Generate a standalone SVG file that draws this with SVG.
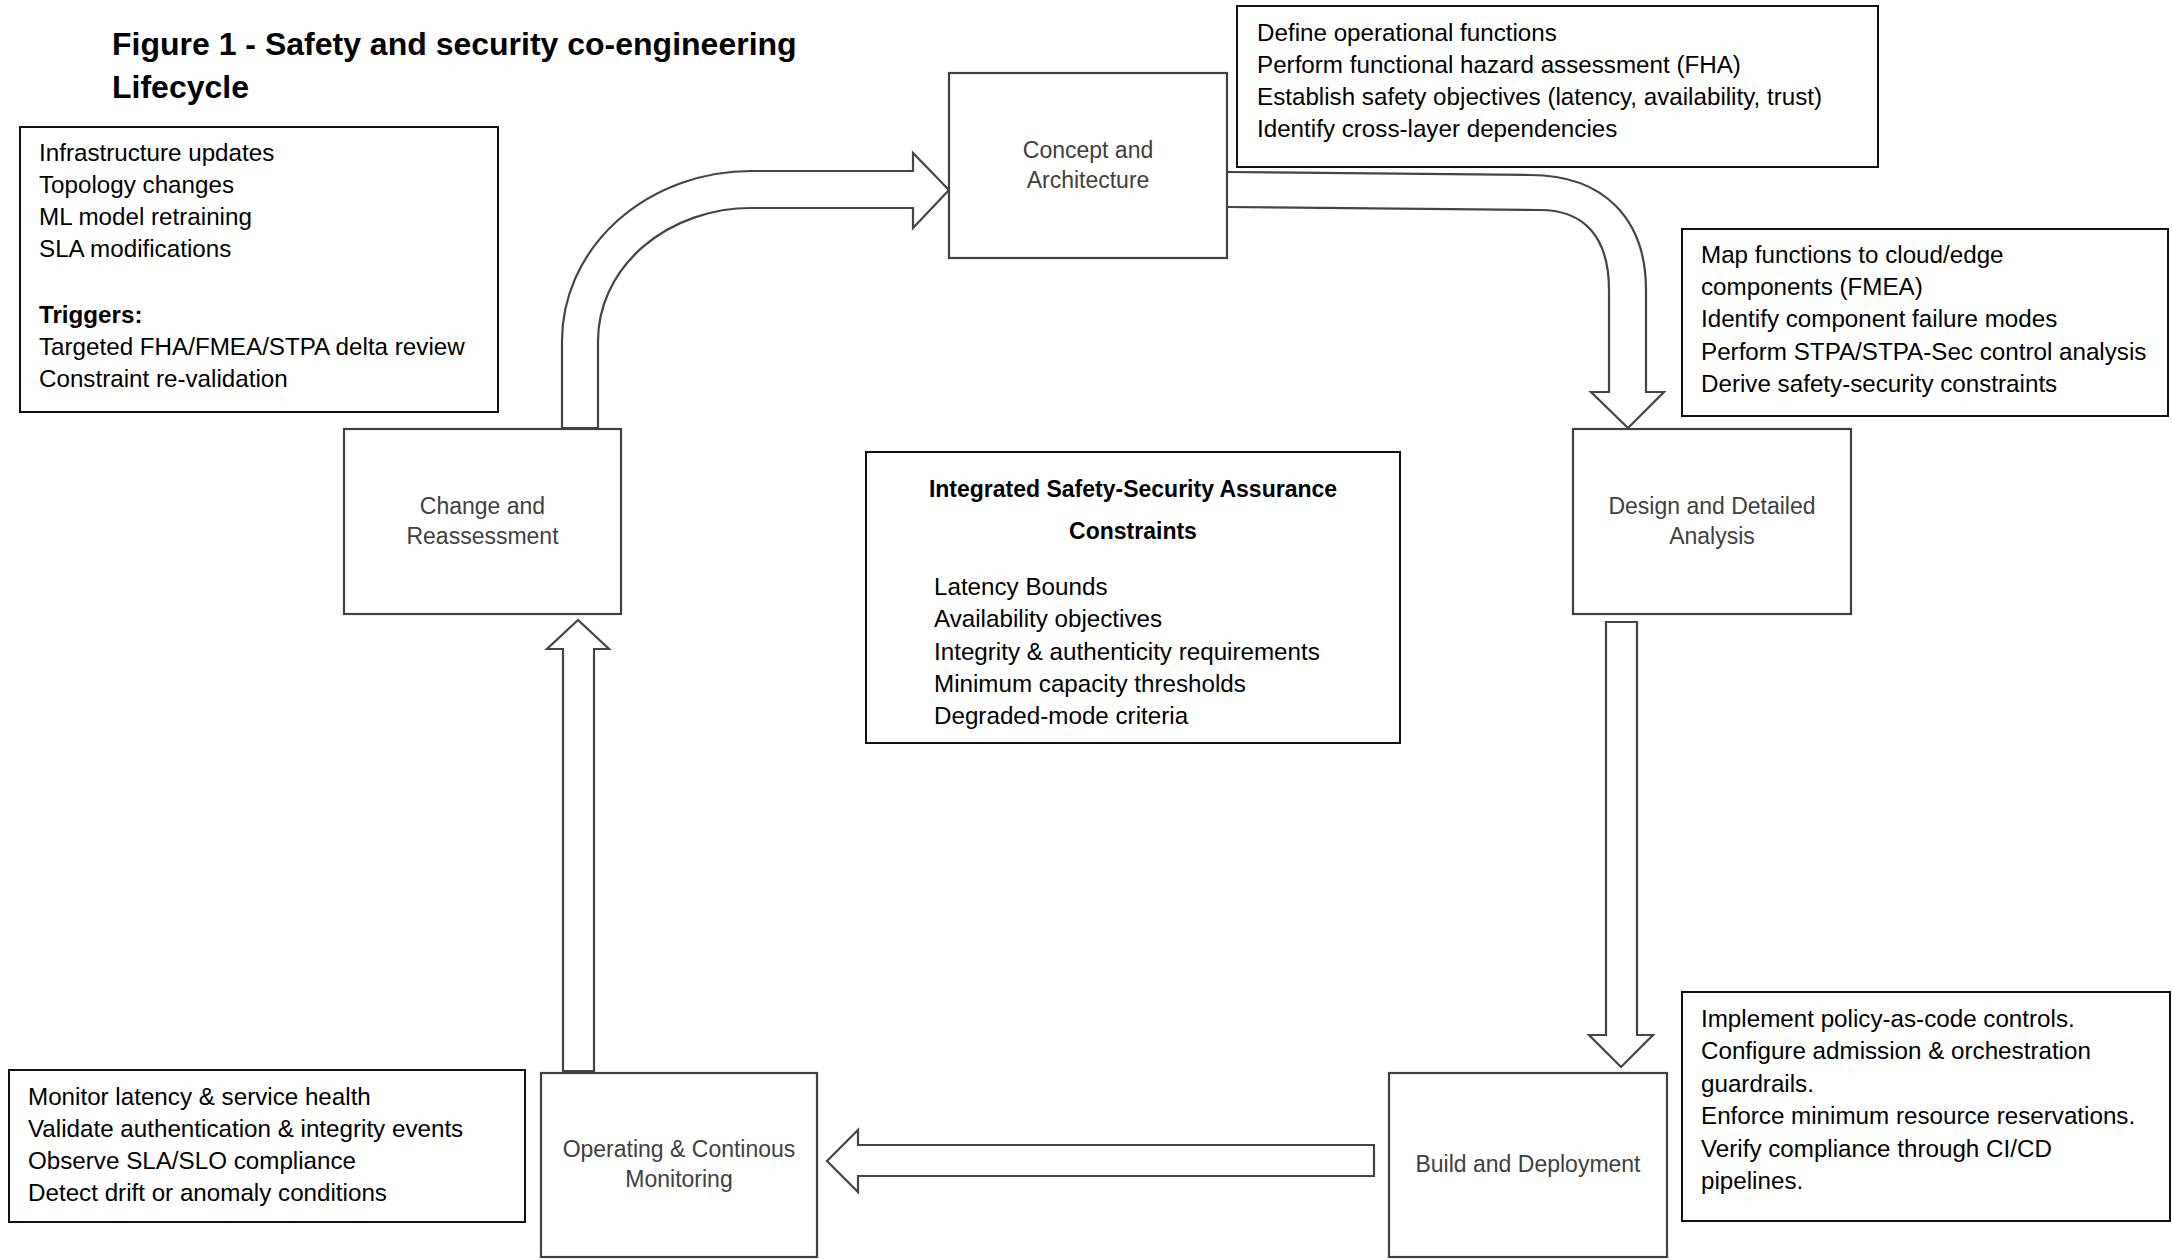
<svg xmlns="http://www.w3.org/2000/svg" width="2172" height="1259" viewBox="0 0 2172 1259">
<style>
.bg{fill:#fff}
.node rect{fill:#fff;stroke:#404040;stroke-width:2.2}
.note rect{fill:#fff;stroke:#111;stroke-width:2}
.lbl{font-family:"Liberation Sans",Arial,sans-serif;font-size:23px;fill:#404040;text-anchor:middle}
.txt{font-family:"Liberation Sans",Arial,sans-serif;font-size:24.2px;fill:#000}
.b{font-weight:bold}
.title{font-family:"Liberation Sans",Arial,sans-serif;font-size:32px;font-weight:bold;fill:#000}
.arrow{fill:#fff;stroke:#444;stroke-width:2.2;stroke-linejoin:miter}
</style>
<rect class="bg" x="0" y="0" width="2172" height="1259"/>

<g id="title">
<text class="title" x="112" y="55">Figure 1 - Safety and security co-engineering</text>
<text class="title" x="112" y="98">Lifecycle</text>
</g>

<g id="connectors">
<path class="arrow" d="M562,428 L562,341 A189,170 0 0 1 751,171 L913,171 L913,153 L949,190 L913,228 L913,208 L751,208 A153,133 0 0 0 598,341 L598,428 Z"/>
<path class="arrow" d="M1228,172 L1530,175 C1605,175 1646,220 1646,290 L1646,392 L1664,392 L1628,428 L1591,392 L1609,392 L1609,290 C1609,238 1585,210 1540,210 L1228,207"/>
<path class="arrow" d="M1606,622 L1637,622 L1637,1035 L1653,1035 L1621,1067 L1589,1035 L1606,1035 Z"/>
<path class="arrow" d="M1374,1145 L858,1145 L858,1130 L827,1161 L858,1192 L858,1176 L1374,1176 Z"/>
<path class="arrow" d="M563,1071 L563,649 L547,649 L578,620 L609,649 L594,649 L594,1071 Z"/>
</g>

<g id="node-concept" class="node">
<rect x="949" y="73" width="278" height="185"/>
<text class="lbl" x="1088" y="158">Concept and</text>
<text class="lbl" x="1088" y="188">Architecture</text>
</g>

<g id="node-design" class="node">
<rect x="1573" y="429" width="278" height="185"/>
<text class="lbl" x="1712" y="514">Design and Detailed</text>
<text class="lbl" x="1712" y="544">Analysis</text>
</g>

<g id="node-build" class="node">
<rect x="1389" y="1073" width="278" height="184"/>
<text class="lbl" x="1528" y="1172">Build and Deployment</text>
</g>

<g id="node-operating" class="node">
<rect x="541" y="1073" width="276" height="184"/>
<text class="lbl" x="679" y="1157">Operating &amp; Continous</text>
<text class="lbl" x="679" y="1187">Monitoring</text>
</g>

<g id="node-change" class="node">
<rect x="344" y="429" width="277" height="185"/>
<text class="lbl" x="482.5" y="514">Change and</text>
<text class="lbl" x="482.5" y="544">Reassessment</text>
</g>

<g id="note-change" class="note">
<rect x="20" y="127" width="478" height="285"/>
<text class="txt" x="39" y="161">Infrastructure updates</text>
<text class="txt" x="39" y="193">Topology changes</text>
<text class="txt" x="39" y="225">ML model retraining</text>
<text class="txt" x="39" y="257">SLA modifications</text>
<text class="txt b" x="39" y="323">Triggers:</text>
<text class="txt" x="39" y="355">Targeted FHA/FMEA/STPA delta review</text>
<text class="txt" x="39" y="387">Constraint re-validation</text>
</g>

<g id="note-concept" class="note">
<rect x="1237" y="6" width="641" height="161"/>
<text class="txt" x="1257" y="41">Define operational functions</text>
<text class="txt" x="1257" y="73">Perform functional hazard assessment (FHA)</text>
<text class="txt" x="1257" y="105">Establish safety objectives (latency, availability, trust)</text>
<text class="txt" x="1257" y="137">Identify cross-layer dependencies</text>
</g>

<g id="note-design" class="note">
<rect x="1682" y="229" width="486" height="187"/>
<text class="txt" x="1701" y="263">Map functions to cloud/edge</text>
<text class="txt" x="1701" y="295">components (FMEA)</text>
<text class="txt" x="1701" y="327">Identify component failure modes</text>
<text class="txt" x="1701" y="360">Perform STPA/STPA-Sec control analysis</text>
<text class="txt" x="1701" y="392">Derive safety-security constraints</text>
</g>

<g id="center-constraints" class="note">
<rect x="866" y="452" width="534" height="291"/>
<text class="txt b" x="1133" y="497" text-anchor="middle" style="font-size:23px">Integrated Safety-Security Assurance</text>
<text class="txt b" x="1133" y="539" text-anchor="middle" style="font-size:23px">Constraints</text>
<text class="txt" x="934" y="595">Latency Bounds</text>
<text class="txt" x="934" y="627">Availability objectives</text>
<text class="txt" x="934" y="660">Integrity &amp; authenticity requirements</text>
<text class="txt" x="934" y="692">Minimum capacity thresholds</text>
<text class="txt" x="934" y="724">Degraded-mode criteria</text>
</g>

<g id="note-build" class="note">
<rect x="1682" y="992" width="488" height="229"/>
<text class="txt" x="1701" y="1027">Implement policy-as-code controls.</text>
<text class="txt" x="1701" y="1059">Configure admission &amp; orchestration</text>
<text class="txt" x="1701" y="1092">guardrails.</text>
<text class="txt" x="1701" y="1124">Enforce minimum resource reservations.</text>
<text class="txt" x="1701" y="1157">Verify compliance through CI/CD</text>
<text class="txt" x="1701" y="1189">pipelines.</text>
</g>

<g id="note-operating" class="note">
<rect x="9" y="1070" width="516" height="152"/>
<text class="txt" x="28" y="1105">Monitor latency &amp; service health</text>
<text class="txt" x="28" y="1137">Validate authentication &amp; integrity events</text>
<text class="txt" x="28" y="1169">Observe SLA/SLO compliance</text>
<text class="txt" x="28" y="1201">Detect drift or anomaly conditions</text>
</g>
</svg>
